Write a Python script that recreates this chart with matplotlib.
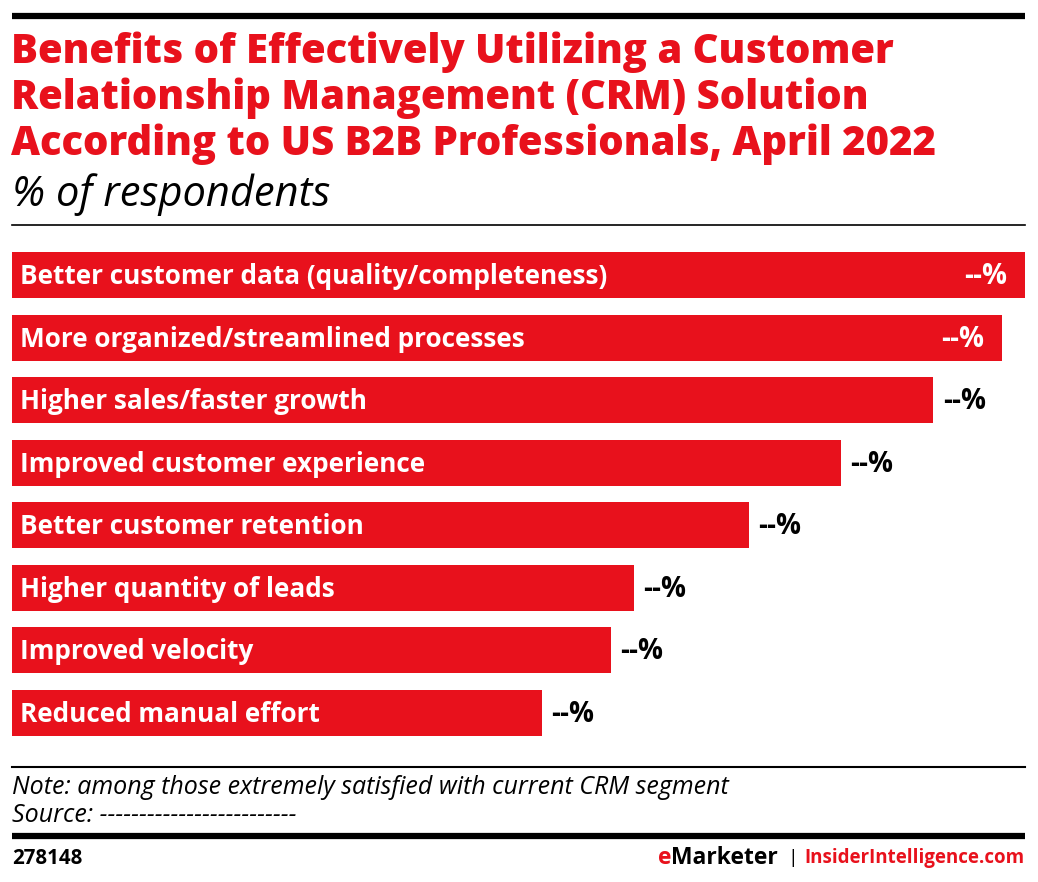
import matplotlib
matplotlib.use("Agg")
import matplotlib.pyplot as plt
from matplotlib.lines import Line2D

categories = [
    "Better customer data (quality/completeness)",
    "More organized/streamlined processes",
    "Higher sales/faster growth",
    "Improved customer experience",
    "Better customer retention",
    "Higher quantity of leads",
    "Improved velocity",
    "Reduced manual effort",
]
values = [44, 43, 40, 36, 32, 27, 26, 23]
value_labels = ["--%"] * len(values)
inside_label = [True, True, False, False, False, False, False, False]

RED = "#E8111C"
W, H = 1038, 882
fig = plt.figure(figsize=(W / 100, H / 100), dpi=100)
FONT = "Open Sans"

def fx(px):
    return px / W

def fy(py):
    return 1 - py / H

# Top rule
fig.add_artist(Line2D([fx(12), fx(1025)], [fy(16), fy(16)], color="black", lw=4.5, solid_capstyle="butt"))

title_lines = ["Benefits of Effectively Utilizing a Customer",
               "Relationship Management (CRM) Solution",
               "According to US B2B Professionals, April 2022"]
for k, line in enumerate(title_lines):
    fig.text(fx(11), fy(63 + 46 * k), line, color=RED, fontsize=28.8, fontweight="heavy",
             family=FONT, va="baseline", ha="left")
fig.text(fx(12), fy(206), "% of respondents", color="black", fontsize=30,
         style="italic", family=FONT, va="baseline", ha="left")
fig.add_artist(Line2D([fx(12), fx(1025)], [fy(225), fy(225)], color="black", lw=1.2))

# Bars axes
ax = fig.add_axes([fx(12), fy(744), fx(1025) - fx(12), (744 - 244) / H])
y = list(range(len(categories)))
ax.barh(y, values, height=0.74, color=RED, edgecolor="none")
ax.set_xlim(0, max(values))
ax.set_ylim(len(categories) - 0.5, -0.5)
ax.axis("off")

for i, (cat, v, lab, ins) in enumerate(zip(categories, values, value_labels, inside_label)):
    ax.annotate(cat, xy=(0, i), xytext=(5.8, -1), textcoords="offset points",
                ha="left", va="center", color="white", fontsize=18.8,
                fontweight="bold", family=FONT)
    if ins:
        ax.annotate(lab, xy=(v, i), xytext=(-13, -1), textcoords="offset points",
                    ha="right", va="center", color="white", fontsize=20,
                    fontweight="bold", family=FONT)
    else:
        ax.annotate(lab, xy=(v, i), xytext=(7, -1), textcoords="offset points",
                    ha="left", va="center", color="black", fontsize=20,
                    fontweight="bold", family=FONT)

# Bottom
fig.add_artist(Line2D([fx(12), fx(1025)], [fy(767), fy(767)], color="black", lw=1.5))
fig.text(fx(12), fy(787), "Note: among those extremely satisfied with current CRM segment",
         fontsize=18, style="italic", family=FONT, va="center", ha="left")
fig.text(fx(12), fy(815), "Source: -------------------------",
         fontsize=18, style="italic", family=FONT, va="center", ha="left")
fig.add_artist(Line2D([fx(12), fx(1025)], [fy(836), fy(836)], color="black", lw=4.5, solid_capstyle="butt"))
fig.text(fx(12), fy(858), "278148", fontsize=14.8, fontweight="bold", family=FONT,
         va="center", ha="left")

# Right footer
fig.text(fx(1024), fy(858), "InsiderIntelligence.com", fontsize=13.5, fontweight="bold",
         family=FONT, va="center", ha="right", color=RED)
fig.text(fx(793), fy(858), "|", fontsize=14, family=FONT, va="center", ha="center", color="black")
fig.canvas.draw()
r = fig.canvas.get_renderer()
t1 = fig.text(fx(778), fy(858), "Marketer", fontsize=16.5, fontweight="bold", family=FONT,
              va="center", ha="right", color="black")
bb1 = t1.get_window_extent(r)
fig.text(bb1.x0 / W, fy(858), "e", fontsize=16.5, fontweight="bold", family=FONT,
         va="center", ha="right", color=RED)

fig.savefig("out.png", dpi=100)
